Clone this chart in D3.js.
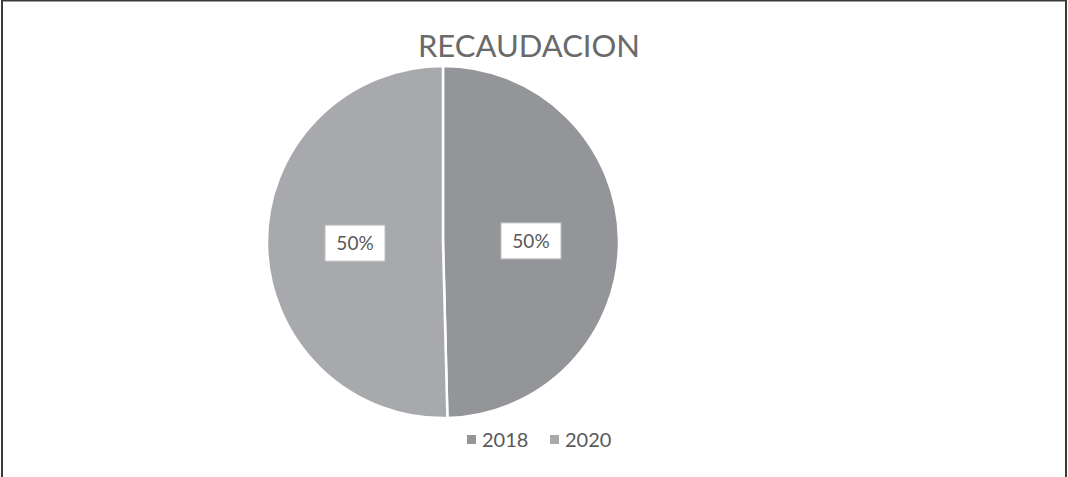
<!DOCTYPE html>
<html>
<head>
<meta charset="utf-8">
<script src="https://cdn.jsdelivr.net/npm/d3@7"></script>
<style>
  body { margin: 0; background: #fff; }
  svg { display: block; font-family: Lato, "Open Sans", sans-serif; }
</style>
</head>
<body>
<div id="chart"></div>
<script>
const width = 1068, height = 477;

const categories = ["2018", "2020"];
const values = [49.6, 50.4];
const colors = ["#939598", "#a7a9ac"];
const title = "RECAUDACION";

const svg = d3.select("#chart").append("svg")
    .attr("width", width)
    .attr("height", height);

// frame: dark on left/right, thin on top, open at the bottom
svg.append("path")
    .attr("d", `M2,${height} V0.5 H1066 V${height}`)
    .attr("fill", "none")
    .attr("stroke", "#3a3a3a")
    .attr("stroke-width", 2);

svg.append("text")
    .attr("x", 529).attr("y", 57)
    .attr("text-anchor", "middle")
    .attr("font-size", 31)
    .attr("fill", "#6a6a6a")
    .text(title);

const cx = 443, cy = 242, r = 176;
const data = categories.map((c, i) => ({name: c, value: values[i], color: colors[i]}));

const pie = d3.pie().sort(null).value(d => d.value);
const arc = d3.arc().innerRadius(0).outerRadius(r);
const labelArc = d3.arc().innerRadius(r * 0.5).outerRadius(r * 0.5);

const g = svg.append("g").attr("transform", `translate(${cx},${cy})`);
const arcs = pie(data);

g.selectAll("path")
    .data(arcs)
    .enter().append("path")
    .attr("d", arc)
    .attr("fill", d => d.data.color)
    .attr("stroke", "#fff")
    .attr("stroke-width", 2.5);

const total = d3.sum(values);
const lbl = g.selectAll(".lbl")
    .data(arcs)
    .enter().append("g")
    .attr("class", "lbl")
    .attr("transform", d => `translate(${labelArc.centroid(d)})`);

lbl.append("rect")
    .attr("x", -30).attr("y", -18)
    .attr("width", 60).attr("height", 36)
    .attr("fill", "#fff")
    .attr("stroke", "#bfbfbf")
    .attr("stroke-width", 1);

lbl.append("text")
    .attr("text-anchor", "middle")
    .attr("dy", "0.35em")
    .attr("font-size", 19)
    .attr("fill", "#595959")
    .text(d => Math.round(d.data.value / total * 100) + "%");

// legend
const legendX = [467, 550];
const leg = svg.selectAll(".leg")
    .data(data)
    .enter().append("g")
    .attr("class", "leg")
    .attr("transform", (d, i) => `translate(${legendX[i]},440)`);

leg.append("rect")
    .attr("x", 0).attr("y", -5)
    .attr("width", 9).attr("height", 9)
    .attr("fill", d => d.color);

leg.append("text")
    .attr("x", 15).attr("dy", "0.35em")
    .attr("font-size", 20)
    .attr("fill", "#595959")
    .text(d => d.name);
</script>
</body>
</html>
